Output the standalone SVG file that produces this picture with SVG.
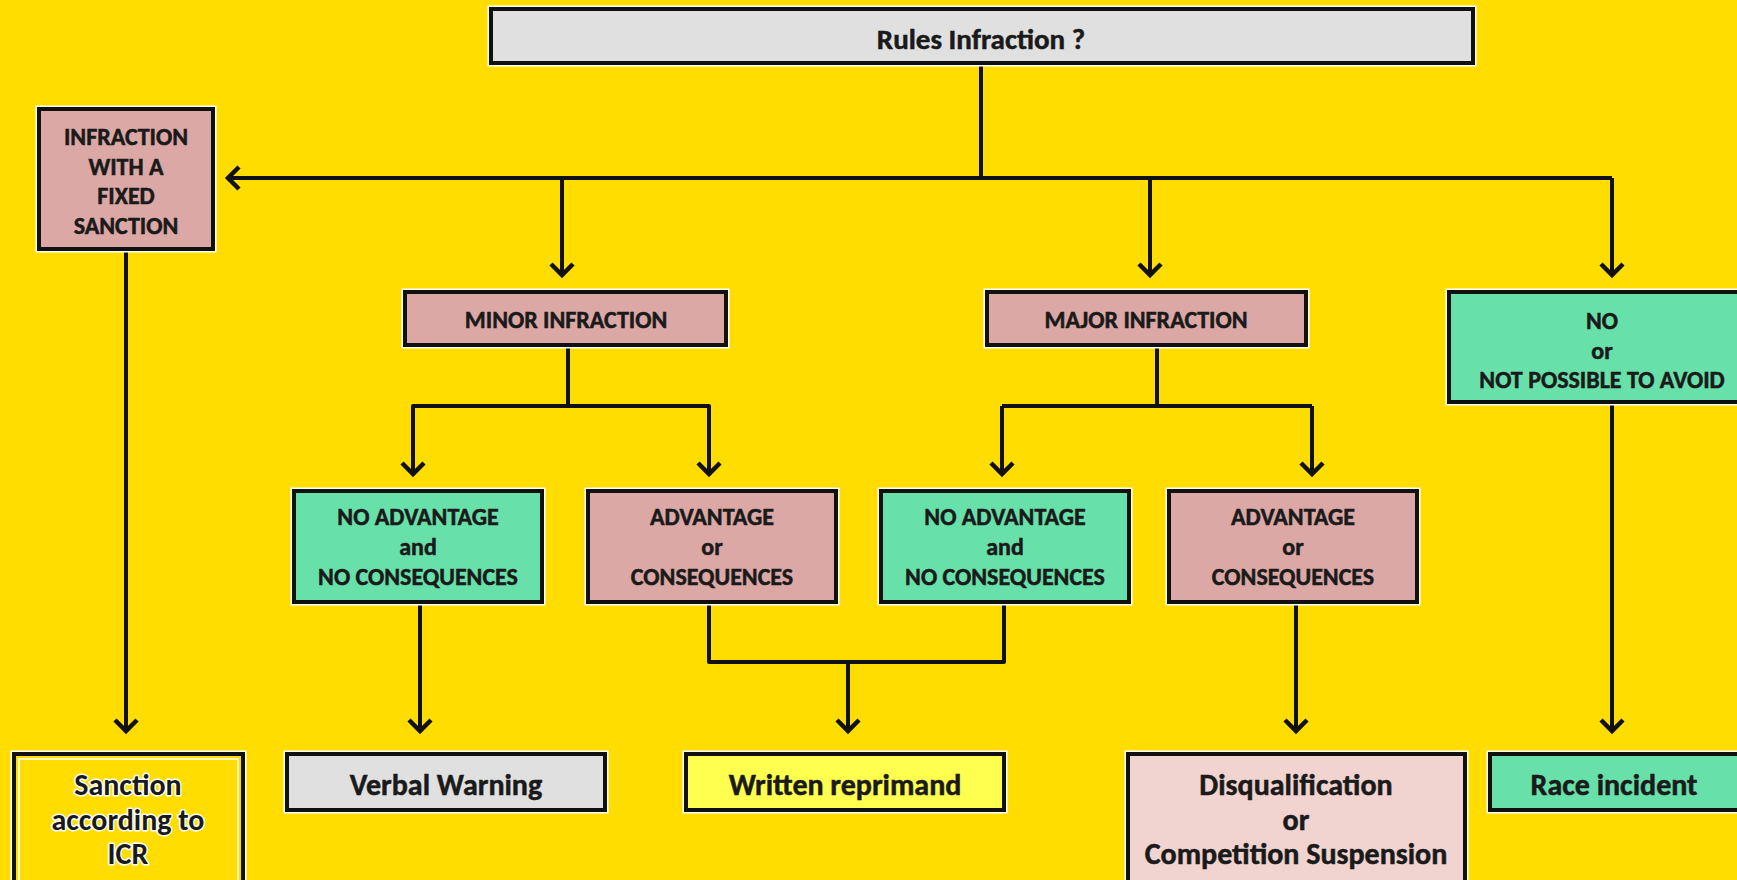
<svg xmlns="http://www.w3.org/2000/svg" width="1737" height="880" viewBox="0 0 1737 880">
<defs>
<style>
.bg{fill:#FFDD00}
.box{stroke:#111;stroke-width:4}
.halo{fill:none;stroke:#fff;stroke-width:7}
.pink{fill:#DCA8A5}
.green{fill:#68E0A9}
.gray{fill:#E0E0E0}
.ylw{fill:#FFFF50}
.lpink{fill:#F1D3CF}
.yel{fill:#FFDD00}
text{font-family:Carlito,Lato,"Open Sans",sans-serif;font-weight:bold;fill:#1a1a1a;text-anchor:middle;stroke:#1a1a1a;stroke-width:0.5}
.s1{font-size:24px}
.s0{font-size:29px}
.s3{font-size:30px}
.glow{stroke:#fff;stroke-width:3;paint-order:stroke;stroke-linejoin:round}
.con{fill:none;stroke:#111;stroke-width:4;stroke-linejoin:round}
.arr{marker-end:url(#ah)}
</style>
<marker id="ah" markerUnits="userSpaceOnUse" markerWidth="30" markerHeight="30" viewBox="-15 -15 30 30" refX="0" refY="0" orient="auto">
<path d="M-11,-11 L0,0 L-11,11" fill="none" stroke="#111" stroke-width="4.5" stroke-linejoin="miter"/>
</marker>
</defs>
<rect class="bg" x="0" y="0" width="1737" height="880"/>

<g id="connectors">
<path class="con" d="M981,63 V178"/>
<path class="con arr" d="M1612,178 H228"/>
<path class="con arr" d="M562,178 V275"/>
<path class="con arr" d="M1150,178 V275"/>
<path class="con arr" d="M1612,178 V275"/>
<path class="con arr" d="M126,249 V731"/>
<path class="con" d="M568,345 V406"/>
<path class="con" d="M413,474 V406 H709 V474"/>
<path class="con arr" d="M413,406 V474"/>
<path class="con arr" d="M709,406 V474"/>
<path class="con" d="M1157,345 V406"/>
<path class="con" d="M1002,406 H1312"/>
<path class="con arr" d="M1002,406 V474"/>
<path class="con arr" d="M1312,406 V474"/>
<path class="con arr" d="M420,602 V731"/>
<path class="con" d="M709,602 V662 H1004 V602"/>
<path class="con arr" d="M848,662 V731"/>
<path class="con arr" d="M1296,602 V731"/>
<path class="con arr" d="M1612,402 V731"/>
</g>

<g id="n-rules">
<rect class="halo" x="491" y="9" width="982" height="54"/>
<rect class="box gray" x="491" y="9" width="982" height="54"/>
<text class="s0" x="981" y="49">Rules Infraction ?</text>
</g>

<g id="n-fixed">
<rect class="halo" x="39" y="109" width="174" height="140"/>
<rect class="box pink" x="39" y="109" width="174" height="140"/>
<text class="s1" x="126" y="145">INFRACTION</text>
<text class="s1" x="126" y="175">WITH A</text>
<text class="s1" x="126" y="204">FIXED</text>
<text class="s1" x="126" y="234">SANCTION</text>
</g>

<g id="n-minor">
<rect class="halo" x="405" y="292" width="321" height="53"/>
<rect class="box pink" x="405" y="292" width="321" height="53"/>
<text class="s1" x="566" y="328">MINOR INFRACTION</text>
</g>

<g id="n-major">
<rect class="halo" x="987" y="292" width="319" height="53"/>
<rect class="box pink" x="987" y="292" width="319" height="53"/>
<text class="s1" x="1146" y="328">MAJOR INFRACTION</text>
</g>

<g id="n-no">
<rect class="halo" x="1449" y="292" width="300" height="110"/>
<rect class="box green" x="1449" y="292" width="300" height="110"/>
<text class="s1" x="1602" y="329">NO</text>
<text class="s1" x="1602" y="359">or</text>
<text class="s1" x="1602" y="388">NOT POSSIBLE TO AVOID</text>
</g>

<g id="n-noadv1">
<rect class="halo" x="294" y="491" width="248" height="111"/>
<rect class="box green" x="294" y="491" width="248" height="111"/>
<text class="s1" x="418" y="525">NO ADVANTAGE</text>
<text class="s1" x="418" y="555">and</text>
<text class="s1" x="418" y="585">NO CONSEQUENCES</text>
</g>

<g id="n-adv1">
<rect class="halo" x="588" y="491" width="248" height="111"/>
<rect class="box pink" x="588" y="491" width="248" height="111"/>
<text class="s1" x="712" y="525">ADVANTAGE</text>
<text class="s1" x="712" y="555">or</text>
<text class="s1" x="712" y="585">CONSEQUENCES</text>
</g>

<g id="n-noadv2">
<rect class="halo" x="881" y="491" width="248" height="111"/>
<rect class="box green" x="881" y="491" width="248" height="111"/>
<text class="s1" x="1005" y="525">NO ADVANTAGE</text>
<text class="s1" x="1005" y="555">and</text>
<text class="s1" x="1005" y="585">NO CONSEQUENCES</text>
</g>

<g id="n-adv2">
<rect class="halo" x="1169" y="491" width="248" height="111"/>
<rect class="box pink" x="1169" y="491" width="248" height="111"/>
<text class="s1" x="1293" y="525">ADVANTAGE</text>
<text class="s1" x="1293" y="555">or</text>
<text class="s1" x="1293" y="585">CONSEQUENCES</text>
</g>

<g id="n-icr">
<rect class="halo" x="14" y="754" width="229" height="140"/>
<rect class="box yel" x="14" y="754" width="229" height="140"/>
<rect x="19" y="759" width="219" height="130" fill="none" stroke="#fff" stroke-width="1.5"/>
<text class="s3 glow" x="128" y="795">Sanction</text>
<text class="s3 glow" x="128" y="830">according to</text>
<text class="s3 glow" x="128" y="864">ICR</text>
</g>

<g id="n-verbal">
<rect class="halo" x="287" y="754" width="318" height="56"/>
<rect class="box gray" x="287" y="754" width="318" height="56"/>
<text class="s3" x="446" y="795">Verbal Warning</text>
</g>

<g id="n-written">
<rect class="halo" x="686" y="754" width="318" height="56"/>
<rect class="box ylw" x="686" y="754" width="318" height="56"/>
<text class="s3" x="845" y="795">Written reprimand</text>
</g>

<g id="n-disq">
<rect class="halo" x="1128" y="754" width="337" height="140"/>
<rect class="box lpink" x="1128" y="754" width="337" height="140"/>
<text class="s3" x="1296" y="795">Disqualification</text>
<text class="s3" x="1296" y="830">or</text>
<text class="s3" x="1296" y="864">Competition Suspension</text>
</g>

<g id="n-race">
<rect class="halo" x="1490" y="754" width="260" height="56"/>
<rect class="box green" x="1490" y="754" width="260" height="56"/>
<text class="s3" x="1614" y="795">Race incident</text>
</g>
</svg>
